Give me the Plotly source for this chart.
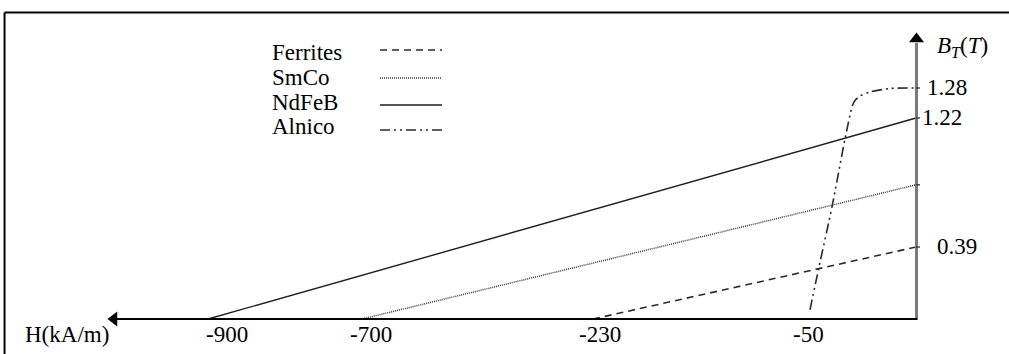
import numpy as np
import plotly.graph_objects as go

# ---------------- data ----------------
H_TICKS = [-900, -700, -230, -50]
H_TICK_LABELS = ["-900", "-700", "-230", "-50"]
B_TICKS = [1.28, 1.22, 0.39]
B_TICK_LABELS = ["1.28", "1.22", "0.39"]

FERRITES_H = [-230, 0]
FERRITES_B = [0.0, 0.39]
SMCO_H = [-700, 0]
SMCO_B = [0.0, 0.79]
NDFEB_H = [-900, 0]
NDFEB_B = [0.0, 1.22]
ALNICO_H = [-50, -45.8, -39.6, -33.5, -30.0, -28.6, -26.5, -21.7, -12.3, 0]
ALNICO_B = [0.05, 0.28, 0.65, 1.085, 1.245, 1.256, 1.264, 1.272, 1.279, 1.28]

SERIES_NAMES = ["Ferrites", "SmCo", "NdFeB", "Alnico"]

# ---------------- schematic (non-linear) scales ----------------
H_BREAKS = [-900, -700, -230, -50, 0]
H_AXIS_POS = [-708, -554, -323, -106, 0]
B_BREAKS = [0, 0.39, 1.22, 1.28]
B_AXIS_POS = [0, 72, 201, 231]


def sx(h):
    return np.interp(np.asarray(h, float), H_BREAKS, H_AXIS_POS)


def sy(b):
    return np.interp(np.asarray(b, float), B_BREAKS, B_AXIS_POS)


FONT = "Liberation Serif, Times New Roman, serif"
FS = 23
STYLES = {
    "Ferrites": dict(color="#2a2a2a", width=1.6, dash="7px,5px"),
    "SmCo": dict(color="#3a3a3a", width=1.5, dash="1px,1px"),
    "NdFeB": dict(color="#1e1e1e", width=1.4, dash="solid"),
    "Alnico": dict(color="#2a2a2a", width=1.6, dash="10px,4px,2px,4px,2px,4px"),
}
DATA = {
    "Ferrites": (FERRITES_H, FERRITES_B),
    "SmCo": (SMCO_H, SMCO_B),
    "NdFeB": (NDFEB_H, NDFEB_B),
    "Alnico": (ALNICO_H, ALNICO_B),
}

fig = go.Figure()
for name in SERIES_NAMES:
    h, b = DATA[name]
    fig.add_trace(go.Scatter(
        x=sx(h), y=sy(b), mode="lines", name=name,
        line=dict(shape="spline" if name == "Alnico" else "linear",
                  smoothing=0.6, **STYLES[name]),
        hoverinfo="skip", showlegend=False))

shapes = []
annotations = []

# frame (top and left border of the picture)
shapes.append(dict(type="line", xref="paper", yref="paper", x0=0.0045, x1=1.0,
                   y0=0.9647, y1=0.9647, line=dict(color="black", width=2)))
shapes.append(dict(type="line", xref="paper", yref="paper", x0=0.0045, x1=0.0045,
                   y0=0.0, y1=0.9647, line=dict(color="black", width=2)))

# vertical B axis (gray) and horizontal H axis (black)
shapes.append(dict(type="line", xref="x", yref="y", x0=0.5, x1=0.5, y0=0, y1=276,
                   line=dict(color="#7a7a7a", width=3)))
shapes.append(dict(type="line", xref="x", yref="y", x0=1.5, x1=-800, y0=0, y1=0,
                   line=dict(color="black", width=2)))
# arrow heads
fig.add_trace(go.Scatter(x=[0.5], y=[280], mode="markers",
                         marker=dict(symbol="triangle-up", size=13, color="black"),
                         hoverinfo="skip", showlegend=False))
fig.add_trace(go.Scatter(x=[-802], y=[0], mode="markers",
                         marker=dict(symbol="triangle-left", size=13, color="black"),
                         hoverinfo="skip", showlegend=False))

# small ticks on the B axis at each series end value
for b in [FERRITES_B[-1], SMCO_B[-1], NDFEB_B[-1], ALNICO_B[-1]]:
    shapes.append(dict(type="line", xref="x", yref="y", x0=0, x1=4,
                       y0=float(sy(b)), y1=float(sy(b)),
                       line=dict(color="#333", width=1.3)))

# H tick labels
H_LABEL_SHIFT = [19, 9, 7, -2]
for h, lab, sh in zip(H_TICKS, H_TICK_LABELS, H_LABEL_SHIFT):
    annotations.append(dict(x=float(sx(h)), y=-15, xref="x", yref="y", text=lab,
                            showarrow=False, xshift=sh,
                            font=dict(family=FONT, size=FS, color="black")))
annotations.append(dict(x=-893, y=-15, xref="x", yref="y", text="H(kA/m)",
                        showarrow=False, xanchor="left",
                        font=dict(family=FONT, size=FS, color="black")))

# B tick labels
B_LABEL_X = [9, 4, 19]
for b, lab, xx in zip(B_TICKS, B_TICK_LABELS, B_LABEL_X):
    annotations.append(dict(x=xx, y=float(sy(b)), xref="x", yref="y", text=lab,
                            showarrow=False, xanchor="left", yshift=1,
                            font=dict(family=FONT, size=FS, color="black")))
annotations.append(dict(x=19, y=272, xref="x", yref="y",
                        text="<i>B</i><sub><i>T</i></sub>(<i>T</i>)",
                        showarrow=False, xanchor="left",
                        font=dict(family=FONT, size=FS, color="black")))

# legend (text left, line sample right)
LEG_TEXT_Y = [267, 242, 217, 193]
LEG_LINE_Y = [269, 241, 214, 189]
for name, ty, ly in zip(SERIES_NAMES, LEG_TEXT_Y, LEG_LINE_Y):
    annotations.append(dict(x=-646, y=ty, xref="x", yref="y", text=name,
                            showarrow=False, xanchor="left",
                            font=dict(family=FONT, size=FS, color="black")))
    st = STYLES[name]
    shapes.append(dict(type="line", xref="x", yref="y", x0=-536, x1=-474,
                       y0=ly, y1=ly,
                       line=dict(color=st["color"], width=st["width"], dash=st["dash"])))

fig.update_layout(
    width=1009, height=354, autosize=False,
    margin=dict(l=0, r=0, t=0, b=0, pad=0),
    paper_bgcolor="white", plot_bgcolor="white",
    xaxis=dict(range=[-916, 93], visible=False, fixedrange=True),
    yaxis=dict(range=[-35, 319], visible=False, fixedrange=True),
    shapes=shapes, annotations=annotations, showlegend=False,
)

fig.write_html("out.html", post_script="document.body.style.margin='0';",
               config={"displayModeBar": False})
